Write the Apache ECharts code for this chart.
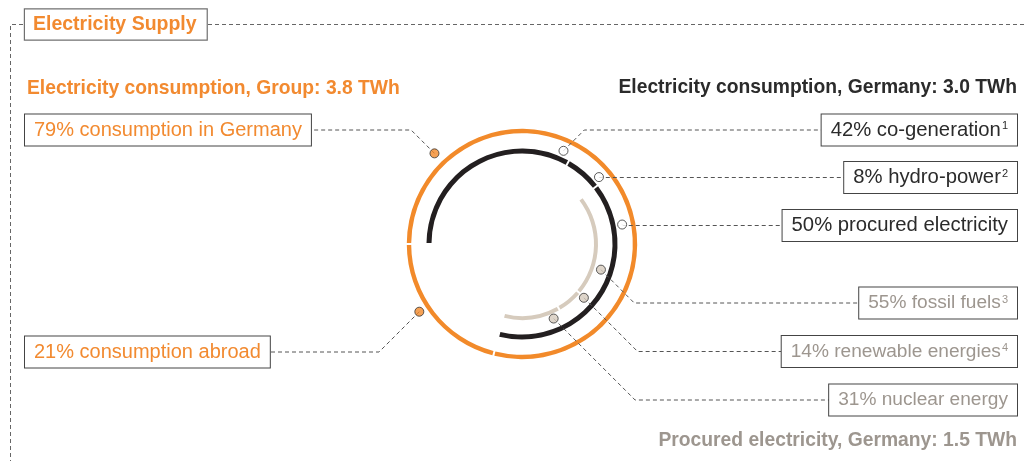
<!DOCTYPE html>
<html>
<head>
<meta charset="utf-8">
<script src="https://cdn.jsdelivr.net/npm/echarts@6/dist/echarts.min.js"></script>
<style>
  html, body { margin: 0; padding: 0; background: #fff; }
  #chart { width: 1024px; height: 461px; }
</style>
</head>
<body>
<div id="chart"></div>
<script>
// Electricity supply: group consumption, German consumption and procured electricity (TWh, shares in %)
const groupTotal = 3.8;
const germanyTotal = 3.0;
const procuredTotal = 1.5;

const groupNames = ['consumption in Germany', 'consumption abroad'];
const groupShares = [79, 21];

const germanyNames = ['co-generation', 'hydro-power', 'procured electricity'];
const germanyShares = [42, 8, 50];
const germanyNotes = ['1', '2', ''];

const procuredNames = ['fossil fuels', 'renewable energies', 'nuclear energy'];
const procuredShares = [55, 14, 31];
const procuredNotes = ['3', '4', ''];

// ---- styling ----
const FONT = "'Liberation Sans', Arial, Helvetica, sans-serif";
const ORANGE = '#f28a2a';
const ORANGE_TEXT = '#f28a30';
const BLACK = '#231f20';
const BEIGE = '#d6cbbd';
const GREY_TEXT = '#9d968f';
const DARK_TEXT = '#2b2b2b';
const LINE = '#555';
const CX = 522, CY = 244;

// ring geometry: each ring is expressed as percent of the full circle
const germanyFrac = groupShares[0] / 100;
const blackData = germanyShares.map((v, i) => ({ name: germanyNames[i], value: v * germanyFrac }));
blackData.push({ name: 'rest', value: 100 - groupShares[0], itemStyle: { color: 'transparent' } });

const procuredFrac = germanyFrac * germanyShares[2] / 100;
const leadFrac = germanyFrac * (germanyShares[0] + germanyShares[1]);
const beigeData = [{ name: 'lead', value: leadFrac, itemStyle: { color: 'transparent' } }];
procuredShares.forEach((v, i) => beigeData.push({ name: procuredNames[i], value: v * procuredFrac }));
beigeData.push({ name: 'rest', value: 100 - leadFrac - procuredFrac * 100, itemStyle: { color: 'transparent' } });

const orangeData = groupShares.map((v, i) => ({ name: groupNames[i], value: v }));

// callout anchors on the polar grid: [radius px, angle deg clockwise from 12 o'clock]
const callouts = [
  { side: 'left',  y: 130,   anchor: [126, 316],   fill: ORANGE, color: ORANGE_TEXT, size: 20,   share: groupShares[0], name: groupNames[0], note: '' },
  { side: 'left',  y: 352,   anchor: [123, 236.6], fill: ORANGE, color: ORANGE_TEXT, size: 20,   share: groupShares[1], name: groupNames[1], note: '' },
  { side: 'right', y: 130,   anchor: [102, 24],    fill: '#fff', color: DARK_TEXT,   size: 20.3, share: germanyShares[0], name: germanyNames[0], note: germanyNotes[0] },
  { side: 'right', y: 177.5, anchor: [102, 49],    fill: '#fff', color: DARK_TEXT,   size: 20.3, share: germanyShares[1], name: germanyNames[1], note: germanyNotes[1] },
  { side: 'right', y: 225.5, anchor: [102, 79],    fill: '#fff', color: DARK_TEXT,   size: 20.3, share: germanyShares[2], name: germanyNames[2], note: germanyNotes[2] },
  { side: 'right', y: 303,   anchor: [83, 108],    fill: BEIGE,  color: GREY_TEXT,   size: 19.1, share: procuredShares[0], name: procuredNames[0], note: procuredNotes[0] },
  { side: 'right', y: 351.5, anchor: [82, 131],    fill: BEIGE,  color: GREY_TEXT,   size: 19.1, share: procuredShares[1], name: procuredNames[1], note: procuredNotes[1] },
  { side: 'right', y: 400,   anchor: [81, 157],    fill: BEIGE,  color: GREY_TEXT,   size: 19.1, share: procuredShares[2], name: procuredNames[2], note: procuredNotes[2] }
];

const ringBase = {
  type: 'pie',
  center: [CX, CY],
  startAngle: 180,
  clockwise: true,
  silent: true,
  z: 1,
  label: { show: false },
  labelLine: { show: false },
  emphasis: { disabled: true },
  animation: false
};

const chart = echarts.init(document.getElementById('chart'), null, { renderer: 'canvas' });

chart.setOption({
  animation: false,
  polar: { center: [CX, CY], radius: 130 },
  angleAxis: { type: 'value', min: 0, max: 360, startAngle: 90, clockwise: true, show: false },
  radiusAxis: { type: 'value', min: 0, max: 130, show: false },
  series: [
    Object.assign({}, ringBase, { name: 'group', radius: [110.8, 115.2], padAngle: 1, data: orangeData, itemStyle: { color: ORANGE } }),
    Object.assign({}, ringBase, { name: 'germany', radius: [90.5, 95.5], padAngle: 1.2, data: blackData, itemStyle: { color: BLACK } }),
    Object.assign({}, ringBase, { name: 'procured', radius: [72, 76], padAngle: 1.5, data: beigeData, itemStyle: { color: BEIGE } }),
    {
      type: 'scatter',
      coordinateSystem: 'polar',
      symbol: 'circle',
      symbolSize: 9,
      z: 5,
      silent: true,
      clip: false,
      animation: false,
      data: callouts.map(c => ({ value: c.anchor, itemStyle: { color: c.fill, borderColor: '#333', borderWidth: 1 } }))
    }
  ]
});

function boxText(c) {
  const main = c.share + '% ' + c.name;
  return c.note ? '{m|' + main + '}{s|' + c.note + '}' : '{m|' + main + '}';
}

function buildGraphics() {
  const els = [];
  const dash = [4, 3];

  // frame around the section
  els.push({
    type: 'polyline', z: 2, silent: true,
    shape: { points: [[1024, 24.5], [10.5, 24.5], [10.5, 461]] },
    style: { stroke: '#666', lineWidth: 1, lineDash: dash, fill: null }
  });
  els.push({
    type: 'text', z: 6, silent: true, x: 25, y: 24.5,
    style: {
      text: 'Electricity Supply', font: 'bold 19.5px ' + FONT, fill: ORANGE_TEXT,
      align: 'left', verticalAlign: 'middle',
      backgroundColor: '#fff', borderColor: '#707070', borderWidth: 1.2, padding: [5, 10, 5, 8]
    }
  });

  // headline totals
  els.push({
    type: 'text', z: 6, silent: true, x: 27, y: 89,
    style: { text: 'Electricity consumption, Group: ' + groupTotal.toFixed(1) + ' TWh', font: 'bold 19.3px ' + FONT, fill: ORANGE_TEXT, align: 'left', verticalAlign: 'middle' }
  });
  els.push({
    type: 'text', z: 6, silent: true, x: 1017, y: 88,
    style: { text: 'Electricity consumption, Germany: ' + germanyTotal.toFixed(1) + ' TWh', font: 'bold 19.3px ' + FONT, fill: DARK_TEXT, align: 'right', verticalAlign: 'middle' }
  });
  els.push({
    type: 'text', z: 6, silent: true, x: 1017, y: 441,
    style: { text: 'Procured electricity, Germany: ' + procuredTotal.toFixed(1) + ' TWh', font: 'bold 19.3px ' + FONT, fill: GREY_TEXT, align: 'right', verticalAlign: 'middle' }
  });

  // callouts: leader line from marker, 45 degree elbow, then horizontal into the box
  callouts.forEach(c => {
    const p = chart.convertToPixel({ seriesIndex: 3 }, c.anchor);
    const dir = c.side === 'right' ? 1 : -1;
    const ex = p[0] + dir * Math.abs(c.y - p[1]);
    const endX = c.side === 'right' ? 1000 : 40;
    const vpad = (31 - c.size) / 2;
    els.push({
      type: 'polyline', z: 3, silent: true,
      shape: { points: [[p[0], p[1]], [ex, c.y], [endX, c.y]] },
      style: { stroke: LINE, lineWidth: 1, lineDash: dash, fill: null }
    });
    els.push({
      type: 'text', z: 6, silent: true,
      x: c.side === 'right' ? 1017 : 25, y: c.y,
      style: {
        text: boxText(c),
        align: c.side === 'right' ? 'right' : 'left',
        verticalAlign: 'middle',
        backgroundColor: '#fff', borderColor: '#444', borderWidth: 1,
        padding: [vpad, 9, vpad, 9],
        rich: {
          m: { font: c.size + 'px ' + FONT, fill: c.color, lineHeight: c.size },
          s: { font: '11px ' + FONT, fill: c.color, lineHeight: 11, verticalAlign: 'top', padding: [1, 0, 0, 1] }
        }
      }
    });
  });
  return els;
}

chart.setOption({ graphic: { elements: buildGraphics() } });
</script>
</body>
</html>
